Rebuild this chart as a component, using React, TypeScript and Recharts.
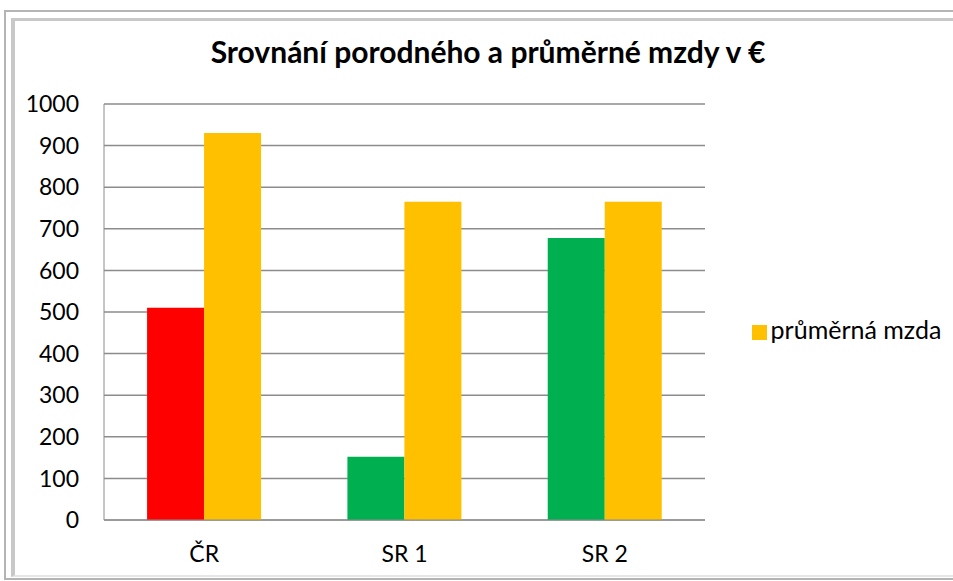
import { BarChart, Bar, XAxis, YAxis, CartesianGrid, Legend, Cell } from 'recharts';

const categories = ['ČR', 'SR 1', 'SR 2'];
const porodne = [510, 152, 678];
const prumernaMzda = [930, 765, 765];
const porodneColors = ['#FF0000', '#00B050', '#00B050'];
const yTicks = [0, 100, 200, 300, 400, 500, 600, 700, 800, 900, 1000];

const data = categories.map((name, i) => ({
  name,
  porodne: porodne[i],
  mzda: prumernaMzda[i],
}));

const font = 'Lato, "Open Sans", sans-serif';

export default function App() {
  return (
    <div
      style={{
        position: 'absolute',
        left: 0,
        top: 0,
        width: 953,
        height: 581,
        background: '#fff',
        overflow: 'hidden',
        fontFamily: font,
      }}
    >
      {/* frame */}
      <div
        style={{
          position: 'absolute',
          left: 4,
          top: 10,
          width: 960,
          height: 570,
          border: '2px solid #b4b4b4',
          boxSizing: 'border-box',
        }}
      />
      <div
        style={{
          position: 'absolute',
          left: 11,
          top: 18,
          width: 960,
          height: 559,
          borderLeft: '4px solid #c8c8c8',
          borderTop: '3px solid #c8c8c8',
          borderBottom: '2px solid #e6e6e6',
          boxSizing: 'border-box',
        }}
      />
      <div
        style={{
          position: 'absolute',
          left: 0,
          width: 976,
          top: 33,
          textAlign: 'center',
          fontWeight: 'bold',
          fontSize: 30,
          color: '#000',
        }}
      >
        Srovnání porodného a průměrné mzdy v €
      </div>
      <BarChart
        width={953}
        height={581}
        data={data}
        margin={{ top: 104, right: 248, bottom: 0, left: 0 }}
        barCategoryGap="21.5%"
        barGap={0}
        style={{ position: 'absolute', left: 0, top: 0 }}
      >
        <CartesianGrid vertical={false} stroke="#8c8c8c" strokeWidth={1.5} />
        <XAxis
          dataKey="name"
          height={61}
          stroke="#8c8c8c"
          tickLine={false}
          tickSize={0}
          tickMargin={26}
          tick={{ fill: '#000', fontSize: 23, fontFamily: font }}
        />
        <YAxis
          width={104}
          domain={[0, 1000]}
          ticks={yTicks}
          interval={0}
          stroke="#8c8c8c"
          tickLine={false}
          tickSize={0}
          tickMargin={25}
          tick={{ fill: '#000', fontSize: 23, fontFamily: font }}
        />
        <Legend
          layout="horizontal"
          align="center"
          verticalAlign="middle"
          iconType="square"
          iconSize={15}
          wrapperStyle={{ top: 314, left: 744, width: 215, fontSize: 25, fontFamily: font, textAlign: 'left' }}
          formatter={(v) => <span style={{ color: '#000' }}>{v}</span>}
        />
        <Bar dataKey="porodne" name="porodné" legendType="none" isAnimationActive={false}>
          {data.map((_, i) => (
            <Cell key={i} fill={porodneColors[i]} />
          ))}
        </Bar>
        <Bar dataKey="mzda" name="průměrná mzda" fill="#FFC000" isAnimationActive={false} />
      </BarChart>
    </div>
  );
}
